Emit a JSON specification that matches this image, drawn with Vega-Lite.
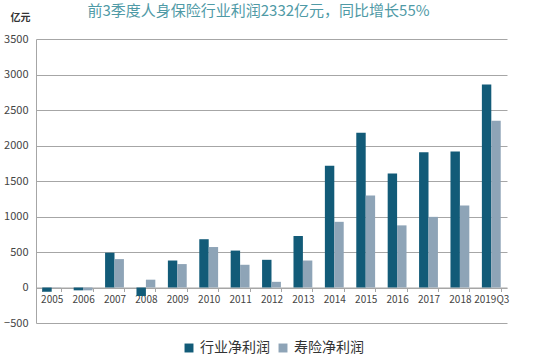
{
  "$schema": "https://vega.github.io/schema/vega-lite/v6.json",
  "width": 471,
  "height": 284,
  "autosize": "none",
  "padding": {"left": 36, "top": 39, "right": 43, "bottom": 37},
  "background": "white",
  "config": {
    "view": {"stroke": null},
    "font": "Noto Sans CJK SC"
  },
  "title": {
    "text": "前3季度人身保险行业利润2332亿元，同比增长55%",
    "color": "#4f9aa6",
    "fontSize": 15,
    "fontWeight": "normal",
    "anchor": "middle",
    "dx": -13,
    "offset": -7
  },
  "data": {
    "values": [
      {"year": "2005", "series": "行业净利润", "value": -60},
      {"year": "2005", "series": "寿险净利润", "value": -3},
      {"year": "2006", "series": "行业净利润", "value": -40},
      {"year": "2006", "series": "寿险净利润", "value": -40},
      {"year": "2007", "series": "行业净利润", "value": 490},
      {"year": "2007", "series": "寿险净利润", "value": 400},
      {"year": "2008", "series": "行业净利润", "value": -120},
      {"year": "2008", "series": "寿险净利润", "value": 110},
      {"year": "2009", "series": "行业净利润", "value": 380},
      {"year": "2009", "series": "寿险净利润", "value": 330},
      {"year": "2010", "series": "行业净利润", "value": 680},
      {"year": "2010", "series": "寿险净利润", "value": 570},
      {"year": "2011", "series": "行业净利润", "value": 520},
      {"year": "2011", "series": "寿险净利润", "value": 320},
      {"year": "2012", "series": "行业净利润", "value": 390},
      {"year": "2012", "series": "寿险净利润", "value": 80},
      {"year": "2013", "series": "行业净利润", "value": 725},
      {"year": "2013", "series": "寿险净利润", "value": 380},
      {"year": "2014", "series": "行业净利润", "value": 1715},
      {"year": "2014", "series": "寿险净利润", "value": 925},
      {"year": "2015", "series": "行业净利润", "value": 2180},
      {"year": "2015", "series": "寿险净利润", "value": 1295},
      {"year": "2016", "series": "行业净利润", "value": 1605},
      {"year": "2016", "series": "寿险净利润", "value": 875},
      {"year": "2017", "series": "行业净利润", "value": 1905},
      {"year": "2017", "series": "寿险净利润", "value": 995},
      {"year": "2018", "series": "行业净利润", "value": 1915},
      {"year": "2018", "series": "寿险净利润", "value": 1155},
      {"year": "2019Q3", "series": "行业净利润", "value": 2860},
      {"year": "2019Q3", "series": "寿险净利润", "value": 2350}
    ]
  },
  "mark": {"type": "bar"},
  "encoding": {
    "x": {
      "field": "year",
      "type": "nominal",
      "sort": null,
      "scale": {"paddingInner": 0.4, "paddingOuter": 0.2},
      "axis": {
        "title": null,
        "labelAngle": 0,
        "labelFontSize": 10,
        "labelColor": "#444",
        "labelPadding": 3,
        "offset": -35.5,
        "domain": true,
        "domainColor": "#a6a6a6",
        "ticks": true,
        "tickBand": "extent",
        "tickColor": "#a6a6a6",
        "tickSize": 4,
        "grid": false
      }
    },
    "xOffset": {
      "field": "series",
      "type": "nominal",
      "sort": ["行业净利润", "寿险净利润"]
    },
    "y": {
      "field": "value",
      "type": "quantitative",
      "scale": {"domain": [-500, 3500], "nice": false, "zero": false},
      "axis": {
        "values": [-500, 0, 500, 1000, 1500, 2000, 2500, 3000, 3500],
        "format": "d",
        "title": "亿元",
        "titleAngle": 0,
        "titleAlign": "center",
        "titleBaseline": "middle",
        "titleX": -16,
        "titleY": -22,
        "titleFontSize": 10,
        "titleFontWeight": "bold",
        "titleColor": "#333",
        "labelFontSize": 11,
        "labelColor": "#444",
        "labelPadding": 8,
        "ticks": false,
        "domain": true,
        "domainColor": "#a6a6a6",
        "grid": true,
        "gridColor": "#a6a6a6",
        "gridWidth": 1
      }
    },
    "color": {
      "field": "series",
      "type": "nominal",
      "scale": {
        "domain": ["行业净利润", "寿险净利润"],
        "range": ["#125b78", "#8ea4b7"]
      },
      "legend": {
        "title": null,
        "orient": "none",
        "legendX": 146,
        "legendY": 302,
        "direction": "horizontal",
        "symbolType": "square",
        "symbolSize": 80,
        "symbolStrokeWidth": 0,
        "labelFontSize": 14,
        "labelColor": "#333",
        "columnPadding": 6
      }
    }
  }
}
